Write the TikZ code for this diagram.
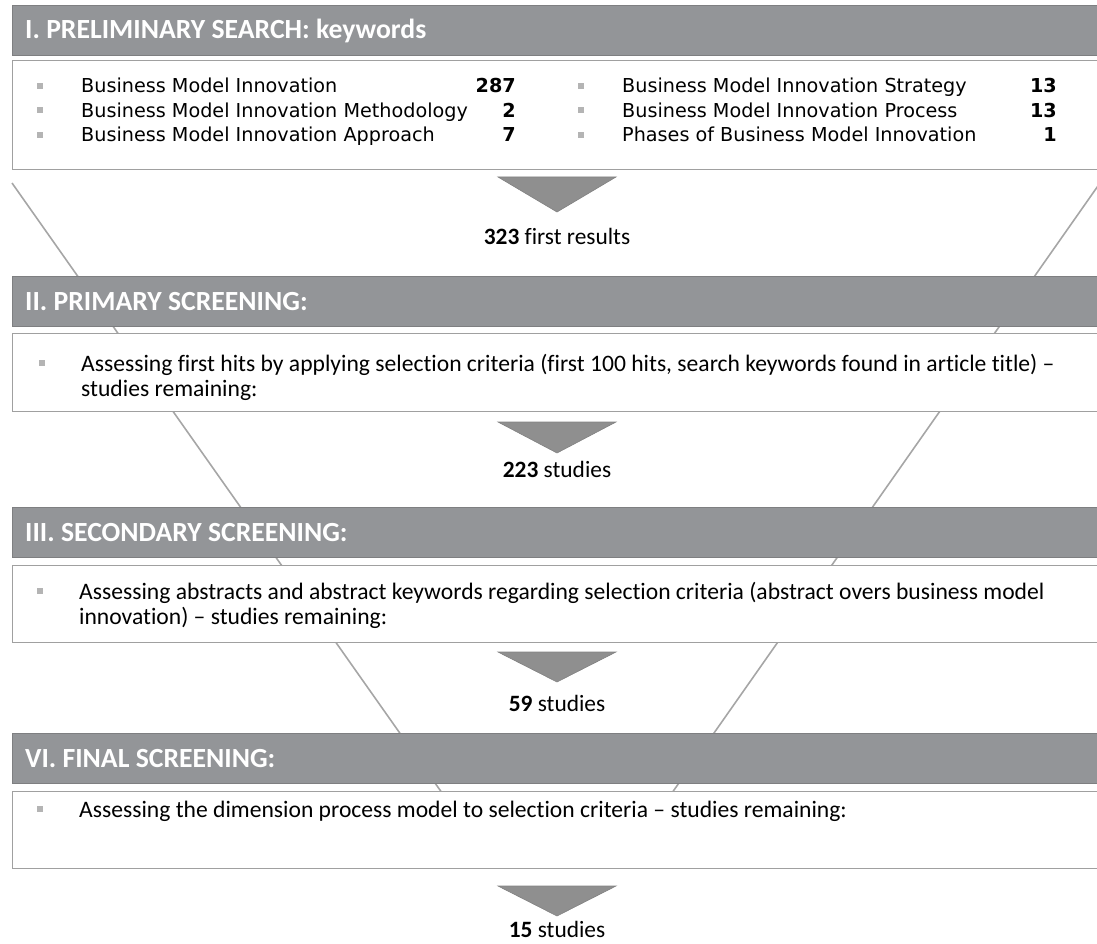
\documentclass[tikz,border=0pt]{standalone}
\usepackage{fontspec}
\setmainfont[Ligatures=NoCommon]{Carlito}
\newfontfamily\kwfont{DejaVu Sans}
\usetikzlibrary{calc}
\definecolor{barfill}{HTML}{939598}
\definecolor{baredge}{HTML}{7E7F81}
\definecolor{boxedge}{HTML}{A0A0A0}
\definecolor{funnel}{HTML}{A6A6A6}
\definecolor{arrowfill}{HTML}{8F8F8F}
\definecolor{dotgray}{HTML}{B4B4B4}
\tikzset{ hd/.style = { rectangle % header bar
        , draw = baredge
        , fill = barfill
        , anchor = north west
        , minimum width = 1100pt
        , minimum height = 50pt
        }
      , bx/.style = { rectangle % white box
        , draw = boxedge
        , fill = white
        , anchor = north west
        , minimum width = 1100pt
        }
      , ht/.style = { anchor = base west % header text
        , inner sep = 0pt
        , font = \fontsize{27.7}{30}\selectfont\bfseries
        , text = white
        }
      , kw/.style = { anchor = base west % keyword
        , inner sep = 0pt
        , font = \kwfont\fontsize{19.2}{24}\selectfont
        }
      , kn/.style = { anchor = base east % keyword count
        , inner sep = 0pt
        , font = \kwfont\fontsize{19.2}{24}\selectfont\bfseries
        }
      , tx/.style = { anchor = base west % box text
        , inner sep = 0pt
        , font = \fontsize{23.6}{25}\selectfont
        }
      , bl/.style = { rectangle % bullet
        , fill = dotgray
        , minimum size = 6pt
        , inner sep = 0pt
        }
      , rs/.style = { anchor = base % result
        , inner sep = 0pt
        , font = \fontsize{23.4}{25}\selectfont
        }
      , ar/.style = { fill = arrowfill % down arrow
        , draw = arrowfill!90!black
        , line width = 0.6pt
        }
      , fn/.style = { draw = funnel % funnel side
        , line width = 1.6pt
        }
}
\def\stage(#1,#2,#3,#4)#5{% header bar and box
  \node[hd] (h#1) at (12,#2) {};
  \node[ht] (ht#1) at (25,#2+34) {#5};
  \node[bx, minimum height=#4] (b#1) at (12,#3) {};
}
\def\dn(#1,#2,#3){% down arrow
  \coordinate (a#1l) at (498,#2);
  \coordinate (a#1r) at (616,#2);
  \coordinate (a#1t) at (557,#2+#3);
  \draw[ar] (a#1l) -- (a#1r) -- (a#1t) -- cycle;
}
\def\kwrow(#1,#2,#3,#4,#5)#6#7{% keyword row
  \pgfmathsetmacro{\yb}{93+24.5*(#2-1)}
  \node[bl] (kb#1#2) at (#3,\yb-7) {};
  \node[kw] (kt#1#2) at (#4,\yb) {#6};
  \node[kn] (kn#1#2) at (#5,\yb) {#7};
}
\begin{document}
\begin{tikzpicture}[x=1pt, y=-1pt]
  \clip (0,0) rectangle (1097,944);
  % funnel
  \coordinate (fl) at (12,183);
  \coordinate (fle) at (447,800);
  \coordinate (fr) at (1100,183);
  \coordinate (fre) at (667,800);
  \draw[fn] (fl) -- (fle);
  \draw[fn] (fr) -- (fre);

  \stage(1,5,60,109){I. PRELIMINARY SEARCH: keywords}
  \stage(2,276,333,78){II. PRIMARY SCREENING:}
  \stage(3,507,565,77){III. SECONDARY SCREENING:}
  \stage(4,733,791,77){VI. FINAL SCREENING:}

  \foreach[count=\n] \kwd/\cnt in {Business Model Innovation/287, Business Model Innovation Methodology/2, Business Model Innovation Approach/7}
    \kwrow(l,\n,40,81,516){\kwd}{\cnt};
  \foreach[count=\n] \kwd/\cnt in {Business Model Innovation Strategy/13, Business Model Innovation Process/13, Phases of Business Model Innovation/1}
    \kwrow(r,\n,581,622,1057){\kwd}{\cnt};

  \node[bl] (tb2) at (42,363) {};
  \node[tx] (t2a) at (81,371) {Assessing first hits by applying selection criteria (first 100 hits, search keywords found in article title) –};
  \node[tx] (t2b) at (81,396) {studies remaining:};
  \node[bl] (tb3) at (40,591) {};
  \node[tx] (t3a) at (79,599) {Assessing abstracts and abstract keywords regarding selection criteria (abstract overs business model};
  \node[tx] (t3b) at (79,624) {innovation) – studies remaining:};
  \node[bl] (tb4) at (40,809) {};
  \node[tx] (t4a) at (79,817) {Assessing the dimension process model to selection criteria – studies remaining:};

  \dn(1,177,35)
  \dn(2,422,31)
  \dn(3,652,30)
  \dn(4,886,30)
  \node[rs] (r1) at (557,244) {\textbf{323} first results};
  \node[rs] (r2) at (557,477) {\textbf{223} studies};
  \node[rs] (r3) at (557,711) {\textbf{59} studies};
  \node[rs] (r4) at (557,937) {\textbf{15} studies};
\end{tikzpicture}
\end{document}
